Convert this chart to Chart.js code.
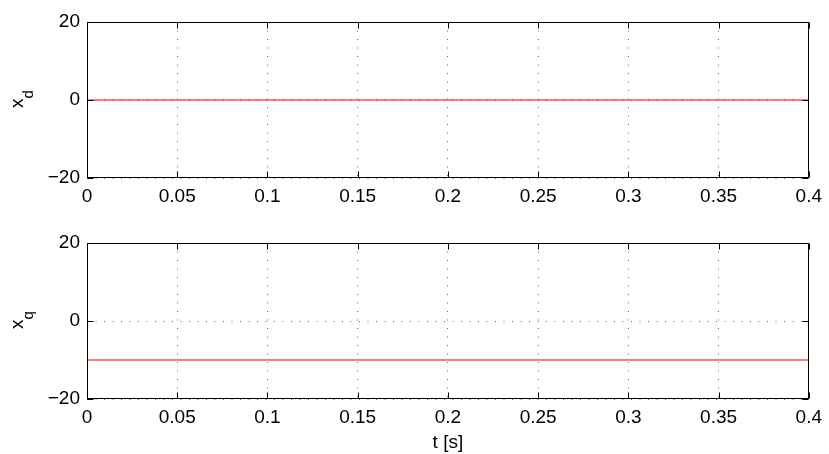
<!DOCTYPE html>
<html>
<head>
<meta charset="utf-8">
<script src="https://cdn.jsdelivr.net/npm/chart.js@4"></script>
<style>
  body { margin: 0; background: #fff; }
  #wrap { position: relative; width: 829px; height: 454px; }
  canvas { position: absolute; left: 0; }
</style>
</head>
<body>
<div id="wrap">
  <canvas id="cd" width="829" height="215" style="top:0"></canvas>
  <canvas id="cq" width="829" height="234" style="top:220px"></canvas>
</div>
<script>
// data
const time = [0, 0.05, 0.1, 0.15, 0.2, 0.25, 0.3, 0.35, 0.4];
const xd = [0, 0, 0, 0, 0, 0, 0, 0, 0];
const xq = [-10, -10, -10, -10, -10, -10, -10, -10, -10];
const xTicks = [0, 0.05, 0.1, 0.15, 0.2, 0.25, 0.3, 0.35, 0.4];
const yTicks = [-20, 0, 20];

const FONT = "'Liberation Sans', Arial, Helvetica, sans-serif";
Chart.defaults.color = '#000';
Chart.defaults.font.family = FONT;

// box round the plot, inward ticks, y label with subscript
const matlabFrame = {
  id: 'matlabFrame',
  afterDraw(chart, args, opts) {
    const ctx = chart.ctx, a = chart.chartArea;
    const xs = chart.scales.x, ys = chart.scales.y;
    const L = Math.round(a.left) + 0.5, R = Math.round(a.right) - 0.5;
    const T = Math.round(a.top) + 0.5, B = Math.round(a.bottom) - 0.5;
    ctx.save();
    ctx.strokeStyle = '#000';
    ctx.lineWidth = 1;
    ctx.strokeRect(L, T, R - L, B - T);
    const tl = 6;
    ctx.beginPath();
    xs.ticks.forEach(t => {
      const px = Math.round(xs.getPixelForValue(t.value)) + 0.5;
      ctx.moveTo(px, B); ctx.lineTo(px, B - tl);
      ctx.moveTo(px, T); ctx.lineTo(px, T + tl);
    });
    ys.ticks.forEach(t => {
      const py = Math.round(ys.getPixelForValue(t.value)) + 0.5;
      ctx.moveTo(L, py); ctx.lineTo(L + tl, py);
      ctx.moveTo(R, py); ctx.lineTo(R - tl, py);
    });
    ctx.stroke();

    // y label
    const cy = (a.top + a.bottom) / 2 - 1;
    ctx.translate(23, cy);
    ctx.rotate(-Math.PI / 2);
    ctx.font = '19px ' + FONT;
    const w1 = ctx.measureText(opts.main).width;
    ctx.font = '15px ' + FONT;
    const w2 = ctx.measureText(opts.sub).width;
    const x0 = -(w1 + w2) / 2;
    ctx.fillStyle = '#000';
    ctx.textBaseline = 'alphabetic';
    ctx.font = '19px ' + FONT;
    ctx.fillText(opts.main, x0, 0);
    ctx.font = '15px ' + FONT;
    ctx.fillText(opts.sub, x0 + w1, 10);
    ctx.restore();
  }
};

function makeChart(id, values, sub, padTop, xHeight, showTitle) {
  const ctx = document.getElementById(id).getContext('2d');
  return new Chart(ctx, {
    type: 'line',
    data: {
      labels: time,
      datasets: [{
        data: time.map((t, i) => ({ x: t, y: values[i] })),
        borderColor: 'rgb(255,0,0)',
        borderWidth: 1.2,
        pointRadius: 0,
        fill: false,
        tension: 0
      }]
    },
    options: {
      responsive: false,
      animation: false,
      devicePixelRatio: 1,
      layout: { padding: { top: padTop, right: 17, left: 0, bottom: 0 } },
      plugins: {
        legend: { display: false },
        tooltip: { enabled: false },
        matlabFrame: { main: 'x', sub: sub }
      },
      scales: {
        x: {
          type: 'linear',
          min: 0, max: 0.4,
          afterBuildTicks: s => { s.ticks = xTicks.map(v => ({ value: v })); },
          afterFit: s => { s.height = xHeight; },
          grid: { color: 'rgba(0,0,0,0.6)', lineWidth: 1, drawTicks: false },
          border: { display: false, dash: [1, 7.5] },
          ticks: {
            padding: 7,
            maxRotation: 0,
            autoSkip: false,
            font: { size: 19 },
            callback: v => String(Number(v.toFixed(2)))
          },
          title: {
            display: showTitle,
            text: 't [s]',
            font: { size: 19 },
            padding: { top: 0, bottom: 0 }
          }
        },
        y: {
          min: -20, max: 20,
          afterBuildTicks: s => { s.ticks = yTicks.map(v => ({ value: v })); },
          afterFit: s => { s.width = 87; },
          grid: { color: 'rgba(0,0,0,0.6)', lineWidth: 1, drawTicks: false },
          border: { display: false, dash: [1, 7.5] },
          ticks: {
            padding: 7,
            font: { size: 19 },
            callback: v => String(v).replace('-', '\u2212')
          }
        }
      }
    },
    plugins: [matlabFrame]
  });
}

makeChart('cd', xd, 'd', 22, 37, false);
makeChart('cq', xq, 'q', 23, 55, true);
</script>
</body>
</html>
